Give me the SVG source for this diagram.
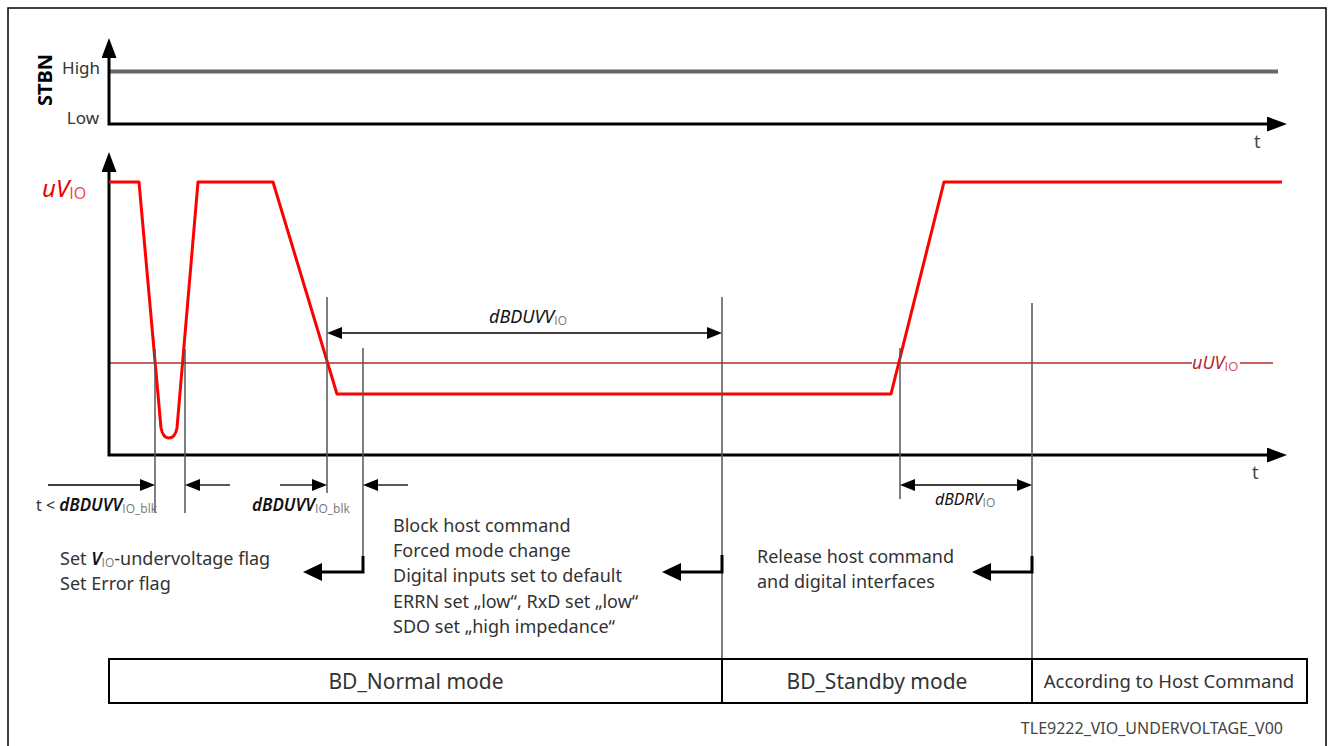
<svg xmlns="http://www.w3.org/2000/svg" width="1332" height="746" viewBox="0 0 1332 746">
<style>
  text, tspan { font-family: "Noto Sans", "Open Sans", sans-serif; }
  text { fill: #333; }
  .ax { fill: none; stroke: #000; stroke-width: 3; }
  .sig { fill: none; stroke: #f00; stroke-width: 3; stroke-linejoin: round; }
  .mk { fill: none; stroke: #555; stroke-width: 1.5; }
  .dim { fill: none; stroke: #000; stroke-width: 1.3; }
  .elb { fill: none; stroke: #000; stroke-width: 3; }
  .thr { fill: none; stroke: #b8282a; stroke-width: 1.5; }
  .lbl { font-size: 18px; }
  .it { font-style: italic; fill: #111; }
  tspan.sub, tspan.subr { font-family: "Open Sans", "Liberation Sans", sans-serif; font-style: normal; font-weight: normal; }
  .sub { font-size: 12px; fill: #777; }
  .mode { font-size: 21px; text-anchor: middle; }
</style>
<defs>
  <marker id="axh" markerUnits="userSpaceOnUse" markerWidth="20" markerHeight="16" refX="0" refY="7.5" orient="auto-start-reverse">
    <path d="M0,0 L20,7.5 L0,15 z" fill="#000"/>
  </marker>
  <marker id="dh" markerUnits="userSpaceOnUse" markerWidth="15" markerHeight="12" refX="0" refY="6" orient="auto-start-reverse">
    <path d="M0,0 L15,6 L0,12 z" fill="#000"/>
  </marker>
  <marker id="eh" markerUnits="userSpaceOnUse" markerWidth="19" markerHeight="18" refX="0" refY="9" orient="auto">
    <path d="M0,0 L19,9 L0,18 z" fill="#000"/>
  </marker>
</defs>

<rect x="8" y="8" width="1318" height="750" fill="#fff" stroke="#000" stroke-width="1.5"/>

<g id="stbn-chart">
  <line x1="109" y1="71.5" x2="1278" y2="71.5" stroke="#666" stroke-width="4"/>
  <path class="ax" d="M109,58 V124 H1267" marker-start="url(#axh)" marker-end="url(#axh)"/>
  <text x="52" y="80" transform="rotate(-90 52 80)" text-anchor="middle" style="font-size:20px;font-weight:bold;fill:#000">STBN</text>
  <text x="100" y="74" text-anchor="end" style="font-size:17px">High</text>
  <text x="99" y="124" text-anchor="end" style="font-size:17px">Low</text>
  <text x="1254" y="148" style="font-size:18px;fill:#444">t</text>
</g>

<g id="uvio-chart">
  <line class="thr" x1="109" y1="363" x2="1192" y2="363"/>
  <line class="thr" x1="1240" y1="363" x2="1273" y2="363"/>
  <path class="ax" d="M109,172 V455 H1267" marker-start="url(#axh)" marker-end="url(#axh)"/>
  <path class="sig" d="M109,182 H139 L161,428 Q163,438 169,438 Q175,438 177,428 L198,182 H273 L337,394 H891 L944,182 H1282"/>
  <text x="42" y="197" style="font-size:24px;font-style:italic;fill:#e00">uV<tspan class="subr" style="font-size:16px;fill:#e44" dy="2">IO</tspan></text>
  <text x="1192" y="369" style="font-size:18px;font-style:italic;fill:#b8282a">uUV<tspan class="subr" style="font-size:13px;fill:#d05050" dy="2">IO</tspan></text>
  <text x="1252" y="479" style="font-size:18px;fill:#444">t</text>
</g>

<g id="markers">
  <line class="mk" x1="155" y1="349" x2="155" y2="513"/>
  <line class="mk" x1="185" y1="349" x2="185" y2="513"/>
  <line class="mk" x1="327" y1="297" x2="327" y2="493"/>
  <line class="mk" x1="363" y1="348" x2="363" y2="557"/>
  <line class="mk" x1="722" y1="297" x2="722" y2="659"/>
  <line class="mk" x1="900" y1="348" x2="900" y2="499"/>
  <line class="mk" x1="1032" y1="303" x2="1032" y2="659"/>
</g>

<g id="connectors">
  <line class="dim" x1="342" y1="333" x2="707" y2="333" marker-start="url(#dh)" marker-end="url(#dh)"/>
  <line class="dim" x1="48" y1="485" x2="140" y2="485" marker-end="url(#dh)"/>
  <line class="dim" x1="230" y1="485" x2="200" y2="485" marker-end="url(#dh)"/>
  <line class="dim" x1="280" y1="485" x2="312" y2="485" marker-end="url(#dh)"/>
  <line class="dim" x1="408" y1="485" x2="378" y2="485" marker-end="url(#dh)"/>
  <line class="dim" x1="915" y1="485" x2="1017" y2="485" marker-start="url(#dh)" marker-end="url(#dh)"/>
  <path class="elb" d="M363,556 V572 H322" marker-end="url(#eh)"/>
  <path class="elb" d="M722,555 V572 H681" marker-end="url(#eh)"/>
  <path class="elb" d="M1032,556 V572 H991" marker-end="url(#eh)"/>
</g>

<g id="dim-labels" class="lbl">
  <text x="489" y="323"><tspan class="it">dBDUVV</tspan><tspan class="sub" dy="2">IO</tspan></text>
  <text x="36" y="511" style="font-size:16px">t &lt; <tspan class="it" style="font-size:17px;font-weight:600">dBDUVV</tspan><tspan class="sub" dy="2">IO_blk</tspan></text>
  <text x="252" y="511"><tspan class="it" style="font-size:17px;font-weight:600">dBDUVV</tspan><tspan class="sub" dy="2">IO_blk</tspan></text>
  <text x="935" y="505" style="font-size:16px"><tspan class="it">dBDRV</tspan><tspan class="sub" dy="2">IO</tspan></text>
</g>

<g id="note-flags" class="lbl">
  <text x="60" y="565">Set <tspan class="it" style="font-weight:600">V</tspan><tspan class="sub" dy="2">IO</tspan><tspan dy="-2">-undervoltage flag</tspan></text>
  <text x="60" y="590">Set Error flag</text>
</g>

<g id="note-block" class="lbl">
  <text x="393" y="532">Block host command</text>
  <text x="393" y="557">Forced mode change</text>
  <text x="393" y="582">Digital inputs set to default</text>
  <text x="393" y="608">ERRN set „low“, RxD set „low“</text>
  <text x="393" y="633">SDO set „high impedance“</text>
</g>

<g id="note-release" class="lbl">
  <text x="757" y="563">Release host command</text>
  <text x="757" y="588">and digital interfaces</text>
</g>

<g id="mode-normal">
  <rect x="109" y="659" width="613" height="44" fill="none" stroke="#000" stroke-width="2"/>
  <text class="mode" x="416" y="689">BD_Normal mode</text>
</g>
<g id="mode-standby">
  <rect x="722" y="659" width="310" height="44" fill="none" stroke="#000" stroke-width="2"/>
  <text class="mode" x="877" y="689">BD_Standby mode</text>
</g>
<g id="mode-host">
  <rect x="1032" y="659" width="275" height="44" fill="none" stroke="#000" stroke-width="2"/>
  <text class="mode" x="1169" y="688" style="font-size:18.5px">According to Host Command</text>
</g>

<text x="1283" y="734" text-anchor="end" style="font-size:16px;fill:#444">TLE9222_VIO_UNDERVOLTAGE_V00</text>
</svg>
